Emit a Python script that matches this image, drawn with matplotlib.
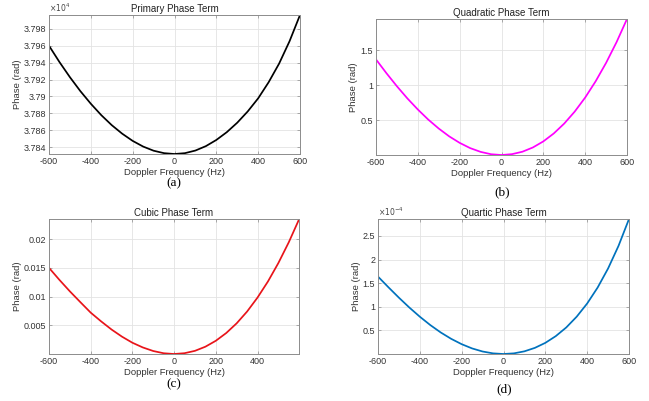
import matplotlib.pyplot as plt
from matplotlib.ticker import FuncFormatter

plt.rcParams['font.family'] = ['Liberation Sans', 'DejaVu Sans']
plt.rcParams['axes.unicode_minus'] = False

# Doppler frequency samples (Hz)
freq = [-600, -550, -500, -450, -400, -350, -300, -250, -200, -150, -100, -50, 0,
        50, 100, 150, 200, 250, 300, 350, 400, 450, 500, 550, 600]

# values (rad)
primary = [37960.0, 37940.7, 37922.8, 37906.3, 37891.4, 37877.9, 37866.1, 37856.0, 37847.5,
           37840.8, 37835.9, 37833.0, 37832.0, 37833.0, 37836.1, 37841.3, 37848.6, 37857.8,
           37869.0, 37882.3, 37897.8, 37916.8, 37938.8, 37965.3, 37996.3]
quadratic = [1.370, 1.172, 0.985, 0.811, 0.652, 0.507, 0.379, 0.267, 0.174, 0.099, 0.045, 0.011, 0.0,
             0.012, 0.047, 0.108, 0.195, 0.309, 0.451, 0.622, 0.823, 1.056, 1.320, 1.617, 1.949]
cubic = [0.0150, 0.0129, 0.01091, 0.00904, 0.00720, 0.00568, 0.00426, 0.00302, 0.00196, 0.00114,
         0.00052, 0.00013, 0.0, 0.00014, 0.00055, 0.00127, 0.00230, 0.00365, 0.00534, 0.00739,
         0.00982, 0.01262, 0.01583, 0.01945, 0.02350]
quartic = [1.640e-4, 1.413e-4, 1.193e-4, 0.984e-4, 0.790e-4, 0.613e-4, 0.456e-4, 0.321e-4, 0.208e-4,
           0.118e-4, 0.053e-4, 0.0135e-4, 0.0, 0.0139e-4, 0.0566e-4, 0.130e-4, 0.236e-4, 0.379e-4,
           0.562e-4, 0.791e-4, 1.070e-4, 1.4075e-4, 1.812e-4, 2.292e-4, 2.860e-4]

titles = ["Primary Phase Term", "Quadratic Phase Term", "Cubic Phase Term", "Quartic Phase Term"]
colors = ["black", "#FF00FF", "#E8141A", "#0072BD"]
ytick_sets = [[37840, 37860, 37880, 37900, 37920, 37940, 37960, 37980],
              [0.5, 1, 1.5],
              [0.005, 0.01, 0.015, 0.02],
              [0.5e-4, 1e-4, 1.5e-4, 2e-4, 2.5e-4]]
scales = [1e4, 1, 1, 1e-4]
exponents = ["4", None, None, "-4"]
sub_labels = ["(a)", "(b)", "(c)", "(d)"]

W, H = 649, 401
# axes boxes in pixels: left, top, right, bottom
boxes = [(49, 15, 300, 154), (376, 19, 627, 155), (49, 219, 299, 354), (378, 219, 629, 354)]
ylab_x = [17, 354, 17, 356]
sub_pos = [(174, 183), (502, 192), (174, 384), (504, 389)]

fig = plt.figure(figsize=(W / 100, H / 100), dpi=100)
series = [primary, quadratic, cubic, quartic]

for i in range(4):
    l, t, r, b = boxes[i]
    ax = fig.add_axes([l / W, 1 - b / H, (r - l) / W, (b - t) / H])
    ax.plot(freq, series[i], color=colors[i], lw=1.25)
    if i == 2:
        ax.set_xlim(-600, 599)
        ax.set_xticks([-600, -400, -200, 0, 200, 400])
    else:
        ax.set_xlim(-600, 600)
        ax.set_xticks([-600, -400, -200, 0, 200, 400, 600])
    ax.set_ylim(min(series[i]), max(series[i]))
    ax.set_yticks(ytick_sets[i])
    s = scales[i]
    ax.yaxis.set_major_formatter(FuncFormatter(lambda v, p, s=s: '%g' % round(v / s, 6)))
    ax.grid(True, color='#e3e3e3', lw=0.6)
    ax.set_axisbelow(True)
    for sp in ax.spines.values():
        sp.set_color('#8c8c8c')
        sp.set_linewidth(0.7)
    ax.tick_params(direction='in', length=2.5, width=0.5, colors='#8c8c8c',
                   labelcolor='#333333', labelsize=6.5, top=True, right=True, pad=2)
    ax.set_title(titles[i], fontsize=7, color='#222222', pad=2)
    ax.set_xlabel("Doppler Frequency (Hz)", fontsize=6.8, color='#333333', labelpad=1.5)
    ax.yaxis.set_label_coords((ylab_x[i] - l) / (r - l), 0.5)
    ax.set_ylabel("Phase (rad)", fontsize=6.8, color='#333333', va='center')
    if exponents[i] is not None:
        ax.text(0.0, 1.01, r"$\times10^{%s}$" % exponents[i], transform=ax.transAxes,
                fontsize=5.5, color='#444444', ha='left', va='bottom')
    fig.text(sub_pos[i][0] / W, 1 - sub_pos[i][1] / H, sub_labels[i], fontsize=9.5,
             family='Liberation Serif', ha='center', va='center', color='black')

fig.savefig("out.png", dpi=100)
